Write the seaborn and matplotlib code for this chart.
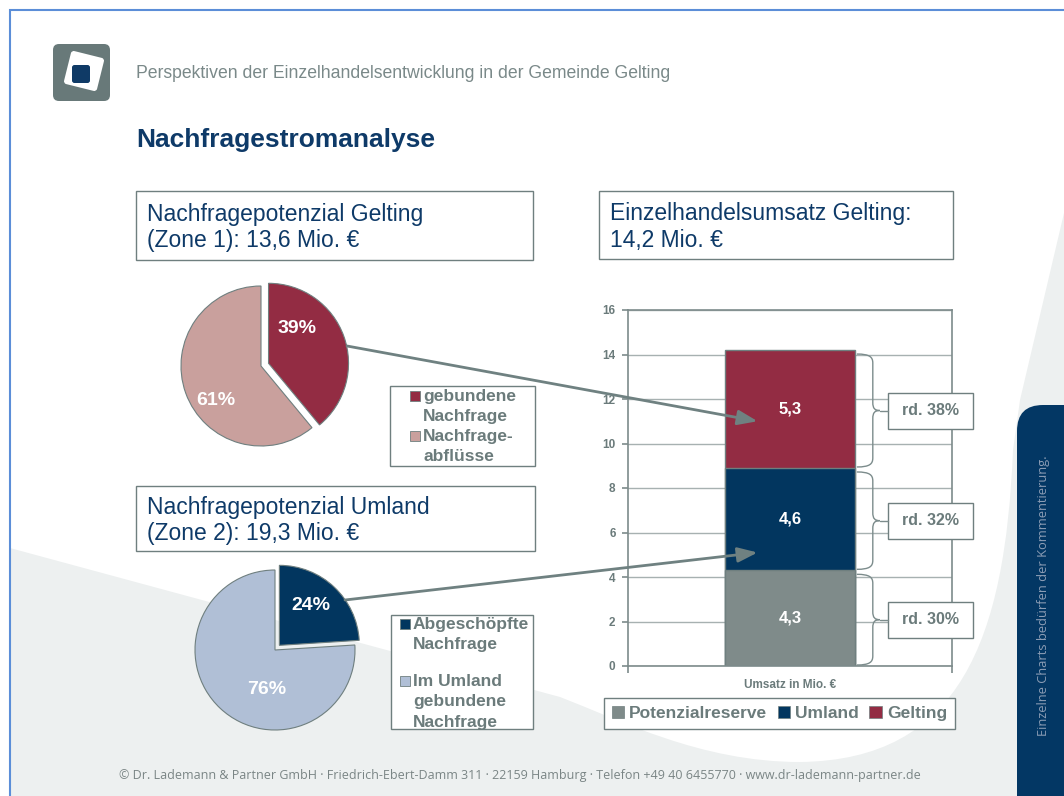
import numpy as np
import pandas as pd
import seaborn as sns
import matplotlib.pyplot as plt
from matplotlib import font_manager
from matplotlib.patches import Rectangle, FancyBboxPatch, PathPatch, Patch, ConnectionPatch
from matplotlib.path import Path
from matplotlib.transforms import Affine2D

# ------------------------------------------------------------------
# Daten
# ------------------------------------------------------------------
gelting_labels = ["gebundene\nNachfrage", "Nachfrage-\nabflüsse"]
gelting_share = [39, 61]
umland_labels = ["Abgeschöpfte\nNachfrage", "Im Umland\ngebundene\nNachfrage"]
umland_share = [24, 76]

umsatz_parts = ["Potenzialreserve", "Umland", "Gelting"]
umsatz_values = [4.3, 4.6, 5.3]
umsatz_percent = ["rd. 30%", "rd. 32%", "rd. 38%"]
umsatz_category = "Umsatz in Mio. €"
y_ticks = [0, 2, 4, 6, 8, 10, 12, 14, 16]

# Farben
DARK = "#0e3a68"
NAVY = "#02365f"
RED = "#932c43"
PINK = "#c9a09d"
LIGHTBLUE = "#b0bfd6"
BARGRAY = "#7f8b8a"
TXTGRAY = "#6b7b7b"
EDGE = "#6f7f7f"
BGGRAY = "#edf0f0"

W, H = 1064, 796

sns.set_style("white")
plt.rcParams["font.family"] = ["Liberation Sans", "DejaVu Sans"]
installed = {f.name for f in font_manager.fontManager.ttflist}
narrow = "Liberation Sans Narrow" if "Liberation Sans Narrow" in installed else "Open Sans"

fig = plt.figure(figsize=(W / 100, H / 100), dpi=100)

# ------------------------------------------------------------------
# Hintergrund (Pixelkoordinaten)
# ------------------------------------------------------------------
ax_bg = fig.add_axes([0, 0, 1, 1], zorder=0)
ax_bg.set_xlim(0, W)
ax_bg.set_ylim(H, 0)
ax_bg.axis("off")

ax_bg.add_patch(Rectangle((0, 0), W, H, color=BGGRAY, lw=0))
verts = [(0, 0), (W, 0), (W, 213), (1020, 400), (1013, 450),
         (1005, 640), (960, 760), (800, 762),
         (700, 762), (620, 720), (560, 697),
         (10, 548), (10, H), (0, H), (0, 0)]
codes = [Path.MOVETO, Path.LINETO, Path.LINETO, Path.LINETO, Path.LINETO,
         Path.CURVE4, Path.CURVE4, Path.CURVE4,
         Path.CURVE4, Path.CURVE4, Path.CURVE4,
         Path.LINETO, Path.LINETO, Path.LINETO, Path.CLOSEPOLY]
ax_bg.add_patch(PathPatch(Path(verts, codes), facecolor="white", lw=0))

# Seitenleiste
ax_bg.add_patch(FancyBboxPatch((1017, 405), 120, 450,
                               boxstyle="round,pad=0,rounding_size=26",
                               facecolor="#033764", lw=0))
ax_bg.text(1043, 596, "Einzelne Charts bedürfen der Kommentierung.",
           rotation=90, ha="center", va="center", fontsize=9.3,
           color="#8c9db5", family="Open Sans")

# Rahmenlinie
ax_bg.plot([10, 10, W], [H, 10, 10], color="#5b8ed8", lw=1.5,
           solid_joinstyle="miter")

# Logo
ax_bg.add_patch(FancyBboxPatch((53, 44), 57, 57,
                               boxstyle="round,pad=0,rounding_size=6",
                               facecolor="#687979", lw=0))
white_sq = FancyBboxPatch((84 - 17, 71 - 17), 34, 34,
                          boxstyle="round,pad=0,rounding_size=3",
                          facecolor="white", lw=0)
white_sq.set_transform(Affine2D().rotate_deg_around(84, 71, 14) + ax_bg.transData)
ax_bg.add_patch(white_sq)
ax_bg.add_patch(FancyBboxPatch((72, 65), 18, 18,
                               boxstyle="round,pad=0,rounding_size=2.5",
                               facecolor="#0f3a66", lw=0))

# Kopf
ax_bg.text(136, 74, "Perspektiven der Einzelhandelsentwicklung in der Gemeinde Gelting",
           fontsize=12.7, color="#7a8989", va="center")
ax_bg.text(136, 140, "Nachfragestromanalyse", fontsize=19, fontweight="bold",
           color=DARK, va="center")

# Titelkaesten
def title_box(x, y, w, h, text):
    ax_bg.add_patch(Rectangle((x, y), w, h, facecolor="white", edgecolor=EDGE, lw=1))
    ax_bg.text(x + 11, y + h / 2 + 2, text, fontsize=16.5, color=DARK,
               va="center", ha="left", linespacing=1.2)

title_box(136, 191, 397, 69, "Nachfragepotenzial Gelting\n(Zone 1): 13,6 Mio. €")
title_box(599, 191, 354, 68, "Einzelhandelsumsatz Gelting:\n14,2 Mio. €")
title_box(136, 486, 399, 65, "Nachfragepotenzial Umland\n(Zone 2): 19,3 Mio. €")

# Legenden der Kreise
def pie_legend(x, y, w, h, sq_x, rows, colors, labels):
    ax_bg.add_patch(Rectangle((x, y), w, h, facecolor="white", edgecolor=EDGE, lw=1))
    for row, col, lab in zip(rows, colors, labels):
        ax_bg.add_patch(Rectangle((sq_x, row - 5), 10, 10, facecolor=col,
                                  edgecolor=EDGE, lw=0.6))
        for i, line in enumerate(lab.split("\n")):
            ax_bg.text(sq_x + 13, row + i * 20.5, line, fontsize=12.5,
                       fontweight="bold", color=TXTGRAY, va="center")

pie_legend(390, 386, 145, 80, 410, [396, 436], [RED, PINK], gelting_labels)
pie_legend(391, 615, 142, 114, 400, [624, 681], [NAVY, LIGHTBLUE], umland_labels)

# Fusszeile
foot = ax_bg.text(520, 775, "© Dr. Lademann & Partner GmbH · Friedrich-Ebert-Damm 311 · "
                  "22159 Hamburg · Telefon +49 40 6455770 · www.dr-lademann-partner.de",
                  ha="center", va="center", fontsize=10, color="#7a8585", family=narrow)
renderer = fig.canvas.get_renderer()
fw = foot.get_window_extent(renderer=renderer).width
foot.set_fontsize(10 * 795 / fw)

# ------------------------------------------------------------------
# Kreisdiagramme
# ------------------------------------------------------------------
def pie_axes(cx, cy, r=80):
    side = 2.5 * r
    return fig.add_axes([(cx - side / 2) / W, (H - cy - side / 2) / H, side / W, side / H],
                        zorder=2)

ax_p1 = pie_axes(261, 366)
ax_p1.pie(gelting_share, colors=[RED, PINK], startangle=90, counterclock=False,
          explode=[0.1, 0], wedgeprops=dict(edgecolor=EDGE, linewidth=0.8))
ax_p2 = pie_axes(275, 650)
ax_p2.pie(umland_share, colors=[NAVY, LIGHTBLUE], startangle=90, counterclock=False,
          explode=[0.08, 0], wedgeprops=dict(edgecolor=EDGE, linewidth=0.8))

for ax, share, pos in [(ax_p1, gelting_share, [(0.45, 0.47), (-0.57, -0.43)]),
                       (ax_p2, umland_share, [(0.45, 0.56), (-0.11, -0.5)])]:
    ax.set_xlim(-1.25, 1.25)
    ax.set_ylim(-1.25, 1.25)
    ax.set_aspect("equal")
    for v, (px, py) in zip(share, pos):
        ax.text(px, py, f"{v}%", color="white", fontsize=14, fontweight="bold",
                ha="center", va="center")

# ------------------------------------------------------------------
# Gestapelter Balken (seaborn)
# ------------------------------------------------------------------
df = pd.DataFrame({"Kategorie": [umsatz_category] * 3,
                   "Teil": umsatz_parts,
                   "Wert": umsatz_values})
df["oben"] = df["Wert"].cumsum()
df["unten"] = df["oben"] - df["Wert"]
bar_colors = {"Potenzialreserve": BARGRAY, "Umland": NAVY, "Gelting": RED}

ax_bar = fig.add_axes([628 / W, (H - 666) / H, 324 / W, 356 / H], zorder=2)
for part in reversed(umsatz_parts):
    sns.barplot(data=df[df["Teil"] == part], x="Kategorie", y="oben",
                color=bar_colors[part], saturation=1, width=0.4,
                edgecolor=EDGE, linewidth=1, ax=ax_bar)

ax_bar.set_xlim(-0.5, 0.5)
ax_bar.set_ylim(0, 16)
ax_bar.set_yticks(y_ticks)
ax_bar.set_xlabel("")
ax_bar.set_ylabel("")
ax_bar.set_axisbelow(True)
ax_bar.yaxis.grid(True, color="#a7b1b1", lw=1)
for sp in ax_bar.spines.values():
    sp.set_color("#7d8b8b")
    sp.set_linewidth(1.2)
ax_bar.tick_params(axis="y", which="major", direction="out", length=4, width=1.2,
                   color="#7d8b8b", left=True, pad=5, labelsize=8.5, labelcolor=TXTGRAY)
ax_bar.tick_params(axis="x", which="major", length=0, pad=9, labelsize=8.5,
                   labelcolor=TXTGRAY)
ax_bar.set_xticks([-0.5, 0.5], minor=True)
ax_bar.tick_params(axis="x", which="minor", bottom=True, direction="out", length=5,
                   width=1.2, color="#7d8b8b")
for lab in ax_bar.get_xticklabels() + ax_bar.get_yticklabels():
    lab.set_fontweight("bold")

for _, row in df.iterrows():
    ax_bar.text(0, row["unten"] + row["Wert"] / 2, f"{row['Wert']:.1f}".replace(".", ","),
                color="white", fontsize=12, fontweight="bold", ha="center", va="center")

fig.legend(handles=[Patch(facecolor=bar_colors[p], edgecolor=EDGE, lw=0.5, label=p)
                    for p in umsatz_parts],
           loc="center", bbox_to_anchor=(779.5 / W, (H - 713.5) / H), ncol=3,
           frameon=True, fancybox=False, framealpha=1, edgecolor=EDGE,
           handlelength=0.7, handleheight=0.7, handletextpad=0.3,
           columnspacing=0.6, borderpad=0.45,
           prop={"weight": "bold", "size": 12.5}, labelcolor=TXTGRAY)

# ------------------------------------------------------------------
# Klammern, Anteile und Pfeile (Vordergrund)
# ------------------------------------------------------------------
ax_fg = fig.add_axes([0, 0, 1, 1], zorder=10)
ax_fg.set_xlim(0, W)
ax_fg.set_ylim(H, 0)
ax_fg.axis("off")
ax_fg.patch.set_visible(False)

def to_px(x, y):
    dx, dy = ax_bar.transData.transform((x, y))
    return dx, H - dy

for row, txt in zip(df.itertuples(), umsatz_percent):
    x0, y_top = to_px(0.2, row.oben)
    _, y_bot = to_px(0.2, row.unten)
    x0 += 2
    y_top += 4
    y_bot -= 1
    ym = (y_top + y_bot) / 2
    xv, xt = x0 + 16, x0 + 23
    v = [(x0, y_top), (xv - 3, y_top), (xv, y_top + 3), (xv, y_top + 9),
         (xv, ym - 8), (xv, ym - 2), (xv + 2, ym), (xt, ym),
         (xv + 2, ym), (xv, ym + 2), (xv, ym + 8),
         (xv, y_bot - 9), (xv, y_bot - 3), (xv - 3, y_bot), (x0, y_bot)]
    c = [Path.MOVETO, Path.CURVE4, Path.CURVE4, Path.CURVE4,
         Path.LINETO, Path.CURVE4, Path.CURVE4, Path.CURVE4,
         Path.CURVE4, Path.CURVE4, Path.CURVE4,
         Path.LINETO, Path.CURVE4, Path.CURVE4, Path.CURVE4]
    ax_fg.add_patch(PathPatch(Path(v, c), facecolor="none", edgecolor="#7c8c8c", lw=1))
    ax_fg.plot([xt, 888], [ym, ym], color="#7c8c8c", lw=1)
    ax_fg.add_patch(Rectangle((888, ym - 18), 85, 36, facecolor="white",
                              edgecolor=EDGE, lw=1))
    ax_fg.text(930.5, ym, txt, fontsize=11.5, fontweight="bold", color=TXTGRAY,
               ha="center", va="center")

# Pfeile von den Kreisen zu den Balkensegmenten
arrow_targets = [(-0.1, 11.0), (-0.1, 5.1)]
for ax_src, start, target in [(ax_p1, (1.075, 0.25), arrow_targets[0]),
                              (ax_p2, (0.875, 0.625), arrow_targets[1])]:
    con = ConnectionPatch(xyA=start, coordsA=ax_src.transData,
                          xyB=target, coordsB=ax_bar.transData,
                          arrowstyle="-|>,head_length=0.8,head_width=0.3",
                          mutation_scale=15, color="#6f8181", lw=2)
    con.set_zorder(20)
    fig.add_artist(con)

fig.savefig("out.png", dpi=100)
